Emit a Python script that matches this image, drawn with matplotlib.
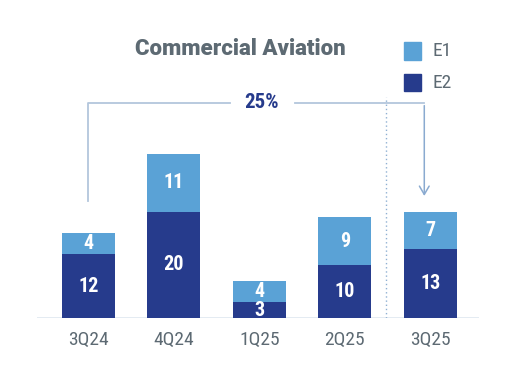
import matplotlib
matplotlib.use("Agg")
import matplotlib.pyplot as plt

# quarterly counts, stacked
quarters = ["3Q24", "4Q24", "1Q25", "2Q25", "3Q25"]
e2 = [12, 20, 3, 10, 13]
e1 = [4, 11, 4, 9, 7]
change_label = "25%"

light = "#5aa2d6"
dark = "#263b8c"
grey = "#5d6a73"
line_col = "#b3c6dc"

cond = ["Roboto Condensed", "DejaVu Sans"]
head = ["Roboto", "DejaVu Sans"]

fig = plt.figure(figsize=(5.16, 3.82), dpi=100)
W, H = 516, 382
# axes spans the plot band: baseline at y=318px, bars 85.4px apart
ax = fig.add_axes([37 / W, 64 / H, (479 - 37) / W, 298 / H])
x = list(range(len(quarters)))
ax.set_xlim(-0.6, 4.57)
ax.set_ylim(0, 298 / 5.3)

bw = 0.62
ax.bar(x, e2, width=bw, color=dark, zorder=2)
ax.bar(x, e1, width=bw, bottom=e2, color=light, zorder=2)

for i in x:
    ax.text(i, e2[i] / 2, str(e2[i]), ha="center", va="center", color="white",
            fontsize=14.5, fontweight="bold", family=cond)
    ax.text(i, e2[i] + e1[i] / 2, str(e1[i]), ha="center", va="center", color="white",
            fontsize=14.5, fontweight="bold", family=cond)

for s in ax.spines.values():
    s.set_visible(False)
ax.axhline(0, color="#dfe7f0", lw=1.2, zorder=1)
ax.set_yticks([])
ax.set_xticks(x)
ax.set_xticklabels(quarters, color=grey, fontsize=14, family=cond)
ax.tick_params(axis="x", length=0, pad=9)

# dotted separator before the latest quarter
ax.plot([3.48, 3.48], [0, 41.7], color="#8fb0d3", lw=1, ls=(0, (1, 2)), zorder=1)

# bracket from first to last quarter
top = 40.6
ax.plot([0, 0, 1.66], [22.1, top, top], color=line_col, lw=1.3, clip_on=False)
ax.annotate("", xy=(3.93, 22.5), xytext=(3.93, top),
            arrowprops=dict(arrowstyle="->,head_length=0.6,head_width=0.35", color="#8aaad0", lw=1.1))
ax.plot([2.42, 3.93], [top, top], color=line_col, lw=1.3)
ax.text(2.03, top, change_label, ha="center", va="center", color=dark,
        fontsize=15, fontweight="bold", family=cond)

fig.text(240 / W, 1 - 49 / H, "Commercial Aviation", ha="center", va="center",
         color=grey, fontsize=16, fontweight="heavy", family=head)

# legend
for k, (lab, col) in enumerate([("E1", light), ("E2", dark)]):
    yc = 51 + k * 31.5
    fig.patches.append(plt.Rectangle((404 / W, 1 - (yc + 8.5) / H), 17 / W, 17 / H,
                                     color=col, transform=fig.transFigure, figure=fig))
    fig.text(433 / W, 1 - yc / H, lab, ha="left", va="center", color=grey,
             fontsize=14, family=cond)

fig.savefig("out.png", dpi=100)
